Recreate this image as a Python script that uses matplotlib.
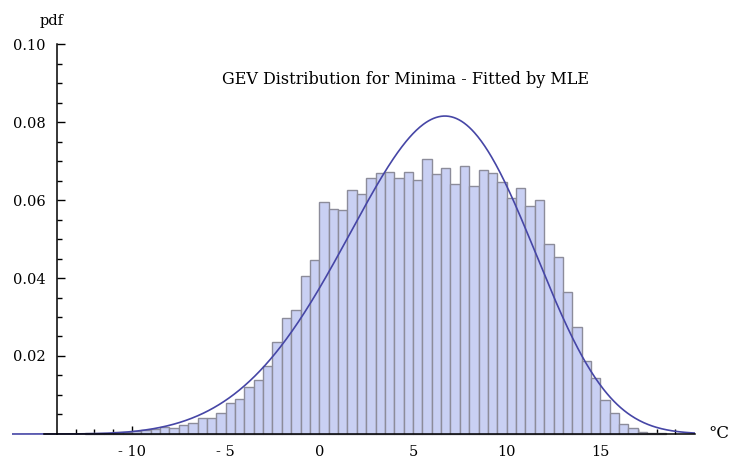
import numpy as np
import matplotlib
matplotlib.use('Agg')
import matplotlib.pyplot as plt

# Histogram data (density per 0.5 degC bin)
bin_start = -12.5
bin_width = 0.5
heights = [0.0002, 0.0003, 0.0003, 0.0005, 0.0006, 0.0008, 0.0010, 0.0013,
           0.0017, 0.0015, 0.0023, 0.0029, 0.0040, 0.0040, 0.0055, 0.0080,
           0.0091, 0.0121, 0.0138, 0.0175, 0.0236, 0.0298, 0.0317, 0.0405,
           0.0446, 0.0595, 0.0578, 0.0574, 0.0625, 0.0615, 0.0656, 0.0668,
           0.0672, 0.0656, 0.0671, 0.0651, 0.0706, 0.0666, 0.0682, 0.0641,
           0.0687, 0.0636, 0.0677, 0.0668, 0.0646, 0.0604, 0.0630, 0.0585,
           0.0600, 0.0487, 0.0455, 0.0363, 0.0275, 0.0188, 0.0143, 0.0087,
           0.0055, 0.0026, 0.0015, 0.0006, 0.0003, 0.0002]

# Fitted GEV (minima) parameters
gev_loc = 7.71
gev_scale = 4.61
gev_shape = -0.2

x_ticks = [-10, -5, 0, 5, 10, 15]
x_ticklabels = ['- 10', '- 5', '0', '5', '10', '15']
y_ticks = [0.02, 0.04, 0.06, 0.08, 0.10]
y_ticklabels = ['0.02', '0.04', '0.06', '0.08', '0.10']

title = 'GEV Distribution for Minima - Fitted by MLE'


def gev_min_pdf(x, mu, sigma, xi):
    # pdf of -Y where Y ~ GEV(max) with loc -mu
    z = (-x + mu) / sigma
    arg = 1 + xi * z
    pdf = np.zeros_like(x)
    ok = arg > 0
    t = arg[ok] ** (-1.0 / xi)
    pdf[ok] = t ** (xi + 1) * np.exp(-t) / sigma
    return pdf


fig = plt.figure(figsize=(7.32, 4.67), dpi=100)
ax = fig.add_axes([12 / 732, 27 / 467, 683 / 732, 400 / 467])

lefts = bin_start + bin_width * np.arange(len(heights))
ax.bar(lefts, heights, width=bin_width, align='edge',
       color='#c9d0f3', edgecolor='#8c8c9a', linewidth=1.0, zorder=2)

xs = np.linspace(-16.4, 20.05, 800)
ax.plot(xs, gev_min_pdf(xs, gev_loc, gev_scale, gev_shape),
        color='#4646a6', linewidth=1.2, zorder=3)

ax.set_xlim(-16.4, 20.05)
ax.set_ylim(-0.00154, 0.10103)

# Mathematica-like axes crossing at (-14, 0)
for s in ['top', 'right']:
    ax.spines[s].set_visible(False)
ax.spines['left'].set_position(('data', -14))
ax.spines['bottom'].set_position(('data', 0))
ax.spines['left'].set_bounds(0, 0.10)
ax.spines['bottom'].set_bounds(-14.7, 20.05)
for s in ['left', 'bottom']:
    ax.spines[s].set_linewidth(1.1)
    ax.spines[s].set_zorder(4)

ax.set_xticks(x_ticks)
ax.set_xticklabels(x_ticklabels)
ax.set_xticks([v for v in range(-13, 20) if v not in x_ticks], minor=True)
ax.set_yticks(y_ticks)
ax.set_yticklabels(y_ticklabels)
ax.set_yticks([k * 0.005 for k in range(1, 20) if k % 4 != 0], minor=True)

ax.tick_params(which='both', direction='in', width=1.0, colors='black')
ax.tick_params(which='major', length=6)
ax.tick_params(which='minor', length=3.5)
ax.tick_params(axis='x', which='major', pad=8)
ax.tick_params(axis='y', which='major', pad=8)
for lab in ax.get_xticklabels() + ax.get_yticklabels():
    lab.set_fontfamily('DejaVu Serif')
    lab.set_fontsize(10.5)

fig.text(406 / 732, 1 - 80 / 467, title, ha='center', va='center',
         fontfamily='DejaVu Serif', fontsize=11.5)
fig.text(52 / 732, 1 - 21 / 467, 'pdf', ha='center', va='center',
         fontfamily='DejaVu Serif', fontsize=10.5)
fig.text(719 / 732, 1 - 434 / 467, '°C', ha='center', va='center',
         fontfamily='DejaVu Serif', fontsize=12)

plt.savefig('out.png', dpi=100)
